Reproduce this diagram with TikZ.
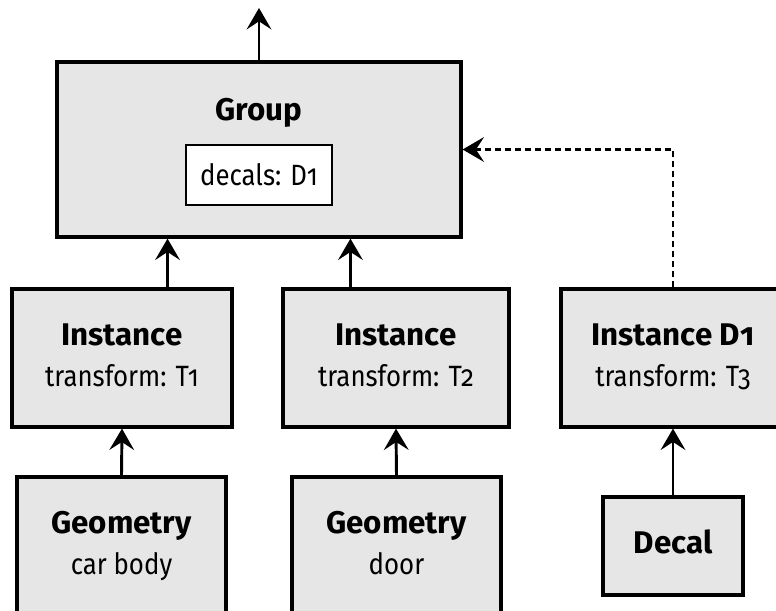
\documentclass[tikz,border=0pt]{standalone}
\usepackage{fontspec}
\setmainfont{Fira Sans}[Numbers=OldStyle,UprightFeatures={FakeStretch=0.88}]
\usepackage{xcolor}
\usetikzlibrary{arrows.meta}
\definecolor{boxgray}{HTML}{E6E6E6}
\newcommand{\hd}[1]{{\fontsize{23.5}{31}\selectfont\bfseries #1}}

\begin{document}
\begin{tikzpicture}[x=0.75pt,y=0.75pt,yscale=-1,xscale=1,
  blk/.style={draw,line width=2.4pt,fill=boxgray,inner sep=0pt,align=center,font=\fontsize{22}{31}\selectfont},
  arr/.style={line width=2.2pt,-{Stealth[length=16pt,width=18.5pt,inset=6pt]}}]
\useasboundingbox (0,0) rectangle (776,611);
\clip (0,0) rectangle (776,611);
% group
\node[blk,minimum width=303pt,minimum height=131.25pt] (group) at (259,149.5) {};
\node[anchor=base,inner sep=0pt] (grouplbl) at (259,120) {\hd{Group}};
\node[draw,line width=1.5pt,fill=white,inner sep=0pt,minimum width=109.5pt,minimum height=45pt,font=\fontsize{22}{31}\selectfont] (decals) at (259,175) {decals: D1};
% instances
\node[blk,text depth=4pt,minimum width=165pt,minimum height=103.5pt] (inst1) at (122,358) {\hd{Instance}\\transform: T1};
\node[blk,text depth=4pt,minimum width=169.5pt,minimum height=103.5pt] (inst2) at (396,358) {\hd{Instance}\\transform: T2};
\node[blk,text depth=4pt,minimum width=168pt,minimum height=103.5pt] (instD) at (673,358) {\hd{Instance D1}\\transform: T3};
% sources
\node[blk,text depth=8pt,minimum width=156.75pt,minimum height=106.5pt] (geo1) at (121.5,548) {\hd{Geometry}\\car body};
\node[blk,text depth=8pt,minimum width=156.75pt,minimum height=106.5pt] (geo2) at (396.5,548) {\hd{Geometry}\\door};
\node[blk,text depth=6.5pt,minimum width=105pt,minimum height=73.5pt] (decal) at (673,546) {\hd{Decal}};
% connectors
\coordinate (top) at (259,8);
\coordinate (gin1) at ([xshift=-68.6pt]group.south);
\coordinate (gin2) at ([xshift=68.6pt]group.south);
\draw[arr] (group.north) -- (top);
\draw[arr] (inst1.north -| gin1) -- (gin1);
\draw[arr] (inst2.north -| gin2) -- (gin2);
\draw[arr,dash pattern=on 4.5pt off 3pt] (instD.north) |- (group.east);
\draw[arr] (geo1.north) -- (inst1.south);
\draw[arr] (geo2.north) -- (inst2.south);
\draw[arr] (decal.north) -- (instD.south);
\end{tikzpicture}
\end{document}
